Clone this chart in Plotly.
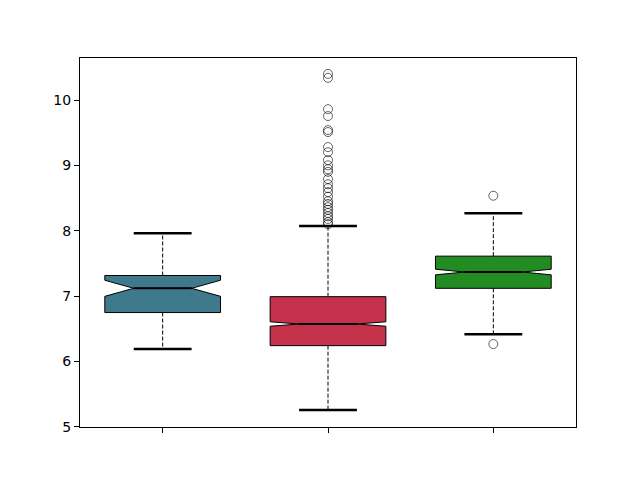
import plotly.graph_objects as go

positions = [1, 2, 3]
box_colors = ["#3e7a8c", "#c4314b", "#228b22"]
q1 = [6.747, 6.24, 7.118]
median = [7.118, 6.571, 7.367]
q3 = [7.314, 6.99, 7.61]
lower_whisker = [6.189, 5.255, 6.414]
upper_whisker = [7.96, 8.07, 8.266]
notch_span = [0.123, 0.034, 0.043]
outliers = [
    [],
    [10.40, 10.34, 9.86, 9.755, 9.54, 9.51, 9.28, 9.20, 9.08, 9.0, 8.94, 8.90,
     8.79, 8.71, 8.65, 8.59, 8.52, 8.45, 8.41, 8.36, 8.32, 8.27, 8.22, 8.18,
     8.13, 8.10],
    [8.535, 6.265],
]

box_width = 0.7
cap_width = 0.35

fig = go.Figure()

for i, pos in enumerate(positions):
    fig.add_trace(go.Box(
        x=[pos], q1=[q1[i]], median=[median[i]], q3=[q3[i]],
        lowerfence=[q1[i]], upperfence=[q3[i]],
        notched=True, notchspan=[notch_span[i]], notchwidth=0.25,
        width=box_width, whiskerwidth=0,
        fillcolor=box_colors[i],
        line=dict(color="black", width=1),
        boxpoints=False, showlegend=False, hoverinfo="skip",
    ))
    # whiskers (dashed)
    fig.add_trace(go.Scatter(
        x=[pos, pos, None, pos, pos],
        y=[q3[i], upper_whisker[i], None, q1[i], lower_whisker[i]],
        mode="lines", line=dict(color="black", width=1, dash="4px,2px"),
        showlegend=False, hoverinfo="skip",
    ))
    # caps
    fig.add_trace(go.Scatter(
        x=[pos - cap_width / 2, pos + cap_width / 2, None,
           pos - cap_width / 2, pos + cap_width / 2],
        y=[upper_whisker[i], upper_whisker[i], None,
           lower_whisker[i], lower_whisker[i]],
        mode="lines", line=dict(color="black", width=2.5),
        showlegend=False, hoverinfo="skip",
    ))
    # median line
    fig.add_trace(go.Scatter(
        x=[pos - box_width / 4, pos + box_width / 4],
        y=[median[i], median[i]],
        mode="lines", line=dict(color="black", width=2),
        showlegend=False, hoverinfo="skip",
    ))
    # fliers
    if outliers[i]:
        fig.add_trace(go.Scatter(
            x=[pos] * len(outliers[i]), y=outliers[i],
            mode="markers",
            marker=dict(symbol="circle-open", size=9,
                        color="rgba(0,0,0,0.6)", line=dict(width=1)),
            showlegend=False, hoverinfo="skip",
        ))

axis_common = dict(
    showline=True, linecolor="black", linewidth=1, mirror=True,
    ticks="outside", ticklen=5, tickcolor="black", tickwidth=1,
    showgrid=False, zeroline=False,
)

fig.update_layout(
    width=640, height=480,
    margin=dict(l=72, r=72, t=50, b=61),
    paper_bgcolor="white", plot_bgcolor="white",
    font=dict(family="DejaVu Sans", size=14, color="black"),
    xaxis=dict(range=[0.5, 3.5], tickvals=positions, ticktext=["", "", ""],
               **axis_common),
    yaxis=dict(range=[4.995, 10.643], tickvals=[5, 6, 7, 8, 9, 10],
               **axis_common),
)

fig.write_html("out.html")
